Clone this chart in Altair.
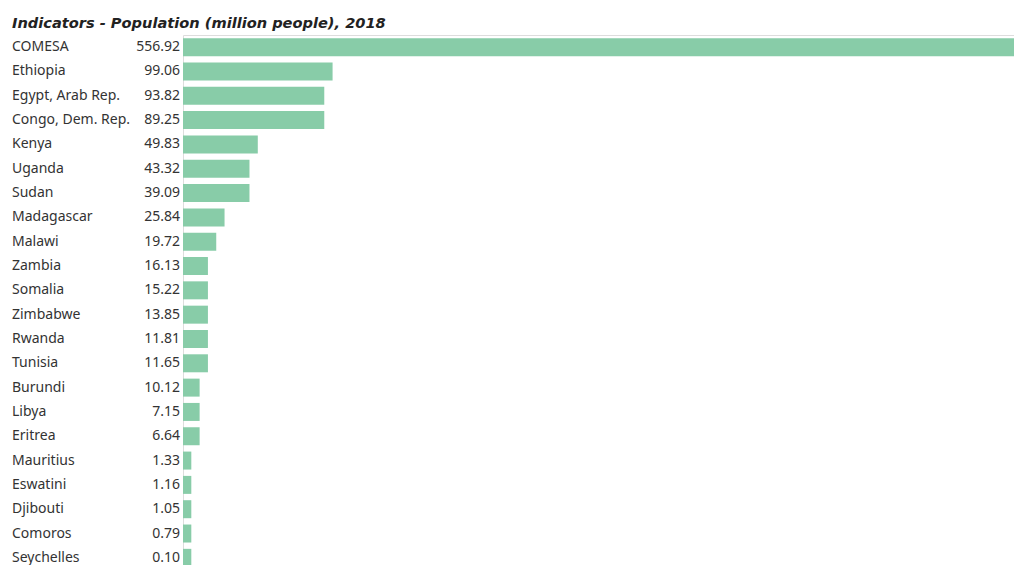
import altair as alt
import pandas as pd

countries = ["COMESA", "Ethiopia", "Egypt, Arab Rep.", "Congo, Dem. Rep.", "Kenya", "Uganda",
             "Sudan", "Madagascar", "Malawi", "Zambia", "Somalia", "Zimbabwe", "Rwanda",
             "Tunisia", "Burundi", "Libya", "Eritrea", "Mauritius", "Eswatini", "Djibouti",
             "Comoros", "Seychelles"]
values = [556.92, 99.06, 93.82, 89.25, 49.83, 43.32, 39.09, 25.84, 19.72, 16.13, 15.22,
          13.85, 11.81, 11.65, 10.12, 7.15, 6.64, 1.33, 1.16, 1.05, 0.79, 0.10]

df = pd.DataFrame({"country": countries, "value": values,
                   "label": [f"{v:.2f}" for v in values]})

y = alt.Y("country:N", sort=countries, axis=None,
          scale=alt.Scale(paddingInner=0.26, paddingOuter=0.13))

base = alt.Chart(df)

bars = base.mark_bar(color="#88CCA8").transform_joinaggregate(
    vmax="max(value)"
).transform_calculate(
    pct="ceil(100 * datum.value / datum.vmax)"
).encode(
    y=y,
    x=alt.X("pct:Q", axis=None, scale=alt.Scale(domain=[0, 100], nice=False, zero=True)),
)

names = base.mark_text(align="left", baseline="middle", font="Noto Sans", fontSize=14,
                       color="#333333").encode(
    y=y, x=alt.value(-171), text="country:N")

labels = base.mark_text(align="right", baseline="middle", font="Noto Sans", fontSize=14,
                        color="#333333").encode(
    y=y, x=alt.value(-3), text="label:N")

chart = alt.layer(bars, names, labels).properties(
    width=831, height=535,
    title=alt.TitleParams("Indicators - Population (million people), 2018", anchor="start",
                          frame="group", dx=-171, offset=4, font="DejaVu Sans",
                          fontSize=14.6, fontWeight="bold", fontStyle="italic", color="#222222"),
    autosize=alt.AutoSizeParams(type="none"),
    padding={"left": 183, "top": 35, "right": 0, "bottom": 0},
).configure_view(stroke=None).configure(background="white")

chart.save("out.html", embed_options={"renderer": "svg", "actions": False})
